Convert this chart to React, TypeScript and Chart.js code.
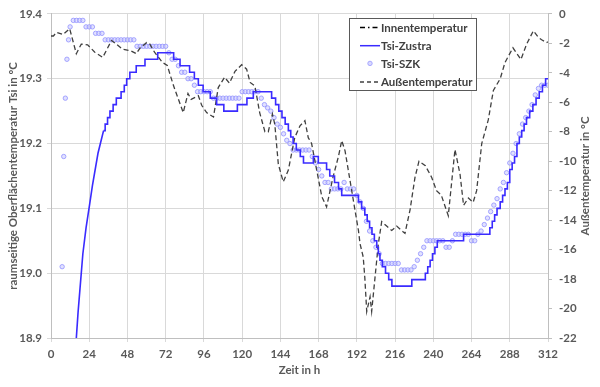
import React, { useEffect, useRef } from "react";
import { Chart, registerables } from "chart.js";

Chart.register(...registerables);

// ---------- data ----------
const xTickStep = 24;
const xMin = 0;
const xMax = 312;
const leftMin = 18.9;
const leftMax = 19.4;
const rightMin = -22;
const rightMax = 0;

const seriesNames = ["Innentemperatur", "Tsi-Zustra", "Tsi-SZK", "Außentemperatur"];
const xTitle = "Zeit in h";
const leftTitle = "raumseitige Oberflächentemperatur Tsi in °C";
const rightTitle = "Außentemperatur in °C";

// Innentemperatur: not visible inside the plotted range
const innenHours: number[] = [];
const innenValues: number[] = [];

// Tsi-Zustra, initial rise (continuous)
const zustraRiseHours = [14, 15.9, 17, 18, 20, 22, 24.3, 26, 29.5, 31, 33];
const zustraRiseValues = [18.83, 18.9, 18.94, 18.97, 19.03, 19.07, 19.107, 19.135, 19.185, 19.2, 19.22];

// Tsi-Zustra, staircase part (step starts)
const zustraHours = [
  33, 34, 35.5, 37, 39, 41, 44, 46,
  47.5, 49.5, 53.5, 59, 67, 77, 81, 87, 90, 92.5, 95.5, 100, 104, 108.5, 117, 123, 127, 138.5, 141, 143, 145,
  147, 149, 150.5, 152, 154, 156.5, 158.5, 164.7, 167.8, 173, 175, 178, 180.5, 182.5, 193, 195, 197, 198.5, 200,
  201.5, 203, 204.5, 205.5, 206.5, 208, 210, 212, 214, 226.5, 235, 236.5, 238, 239.5, 241, 242.5, 259, 275.5,
  277, 278.5, 280, 282, 283.5, 285, 286.5, 288, 289.5, 291, 292.5, 294, 295.5, 297, 298.5, 300.5, 302.5, 304.5,
  306.5, 308.5, 310.5, 312,
];
const zustraValues = [
  19.22, 19.23, 19.24, 19.25, 19.26, 19.27, 19.28, 19.29, 19.3, 19.31, 19.32, 19.33,
  19.34, 19.33, 19.32, 19.31, 19.3, 19.29, 19.28, 19.27, 19.26, 19.25, 19.26, 19.27, 19.28, 19.27, 19.26, 19.25,
  19.24, 19.23, 19.22, 19.21, 19.2, 19.19, 19.18, 19.17, 19.18, 19.17, 19.16, 19.15, 19.14, 19.13, 19.12, 19.11,
  19.1, 19.09, 19.08, 19.07, 19.06, 19.05, 19.04, 19.03, 19.02, 19.01, 19.0, 18.99, 18.98, 18.99, 19.0, 19.01,
  19.02, 19.03, 19.04, 19.05, 19.06, 19.07, 19.08, 19.09, 19.1, 19.11, 19.12, 19.13, 19.14, 19.16, 19.17, 19.18,
  19.2, 19.21, 19.22, 19.23, 19.24, 19.25, 19.26, 19.27, 19.28, 19.29, 19.3, 19.3,
];

// Tsi-SZK (markers)
const szkHours = [
  7, 8, 9, 10, 11, 12, 14, 16, 18, 20, 22, 24, 26, 28, 30, 32, 34, 36, 38, 40, 42, 44, 46, 48, 50, 52, 54, 56,
  58, 60, 62, 64, 66, 68, 70, 72, 74, 76, 78, 80, 82, 84, 86, 88, 90, 92, 94, 96, 98, 100, 102, 104, 106, 108,
  110, 112, 114, 116, 118, 120, 122, 124, 126, 128, 130, 132, 134, 136, 138, 140, 142, 144, 146, 148, 150, 152,
  154, 156, 158, 160, 162, 164, 166, 168, 170, 172, 174, 176, 178, 180, 182, 184, 186, 188, 190, 192, 194, 196,
  198, 200, 202, 204, 206, 208, 210, 212, 214, 216, 218, 220, 222, 224, 226, 228, 230, 232, 234, 236, 238, 240,
  242, 244, 246, 248, 250, 252, 254, 256, 258, 260, 262, 264, 266, 268, 270, 272, 274, 276, 278, 280, 282, 284,
  286, 288, 290, 292, 294, 296, 298, 300, 302, 304, 306, 308, 310, 312,
];
const szkValues = [
  19.01, 19.18, 19.27, 19.33, 19.36, 19.38, 19.39, 19.39, 19.39, 19.39, 19.38, 19.38, 19.38, 19.37, 19.37, 19.37,
  19.36, 19.36, 19.36, 19.36, 19.36, 19.36, 19.36, 19.36, 19.36, 19.36, 19.35, 19.35, 19.35, 19.35, 19.35, 19.35,
  19.35, 19.35, 19.35, 19.35, 19.34, 19.33, 19.33, 19.32, 19.31, 19.31, 19.3, 19.3, 19.29, 19.28, 19.28, 19.28,
  19.28, 19.28, 19.27, 19.27, 19.27, 19.27, 19.27, 19.27, 19.27, 19.27, 19.27, 19.28, 19.28, 19.28, 19.28, 19.28,
  19.28, 19.27, 19.26, 19.255, 19.25, 19.24, 19.23, 19.225, 19.215, 19.205, 19.2, 19.19, 19.19, 19.19, 19.19,
  19.19, 19.19, 19.18, 19.17, 19.16, 19.15, 19.14, 19.14, 19.13, 19.13, 19.13, 19.13, 19.14, 19.13, 19.13, 19.13,
  19.12, 19.11, 19.1, 19.08, 19.065, 19.05, 19.04, 19.03, 19.015, 19.015, 19.015, 19.015, 19.015, 19.015, 19.005,
  19.005, 19.005, 19.005, 19.01, 19.02, 19.03, 19.04, 19.05, 19.05, 19.05, 19.05, 19.05, 19.05, 19.04, 19.04,
  19.05, 19.06, 19.06, 19.06, 19.06, 19.06, 19.05, 19.05, 19.06, 19.065, 19.075, 19.085, 19.095, 19.105, 19.115,
  19.13, 19.14, 19.155, 19.17, 19.185, 19.2, 19.215, 19.23, 19.24, 19.25, 19.26, 19.275, 19.285, 19.29, 19.29,
  19.29,
];

// Außentemperatur (right axis)
const aussenHours = [
  0, 1.5, 3.5, 7.5, 11.7, 15.9, 19, 23, 27.5, 32.5, 38, 41, 45, 50, 53.5, 56, 60, 62, 65, 70, 73, 77, 80, 83, 86,
  88, 92.5, 94.6, 97.7, 102, 105, 109, 112, 115.5, 119.7, 122.8, 125, 128, 131, 134.3, 136.4, 139, 140.5, 142.7,
  145.8, 149, 153, 156.3, 159.4, 161.5, 163.6, 166.8, 170, 173, 177, 180.4, 182.5, 184.6, 187.7, 190.8, 193, 194,
  196, 197, 198.2, 200.3, 201.3, 203.4, 205.5, 207.6, 210.7, 213.9, 217, 220, 222.2, 225.4, 228.5, 231, 235, 239,
  242, 245, 249.4, 253.6, 256.8, 259, 262, 265, 267.2, 270.4, 274.5, 277.7, 282, 285, 290, 295, 298.6, 302.8, 306,
  308, 311, 312,
];
const aussenValues = [
  -1.5, -1.5, -1.25, -1.4, -1.0, -2.7, -2.05, -2.1, -2.6, -2.95, -1.8, -2.05, -2.4, -2.5, -2.7, -2.3, -1.95, -2.05,
  -2.6, -3.3, -3.5, -4.9, -5.8, -6.7, -5.4, -5.8, -5.55, -6.2, -6.7, -7.0, -5.0, -4.3, -4.7, -3.9, -3.45, -3.75,
  -4.65, -4.9, -6.7, -8.0, -8.0, -6.8, -7.5, -10.2, -11.4, -10.6, -8.4, -7.6, -7.25, -8.4, -8.8, -10.6, -12.4, -13.1,
  -11.1, -9.7, -8.6, -9.3, -11.3, -13.3, -14.7, -15.6, -16.5, -17.9, -20.2, -19.2, -20.2, -17.9, -15.6, -14.1,
  -14.4, -14.7, -14.4, -14.7, -14.9, -13.3, -11.1, -10.0, -10.3, -11.1, -12.0, -12.3, -13.7, -9.2, -10.9, -13.0,
  -12.5, -12.8, -12.0, -8.8, -7.2, -5.2, -4.4, -3.3, -2.3, -3.1, -2.05, -1.15, -1.6, -1.75, -1.95, -1.9,
];

// ---------- helpers ----------
const toPoints = (xs: number[], ys: number[]) => xs.map((x, i) => ({ x, y: ys[i] }));

const FONT = "Lato, 'Open Sans', sans-serif";
const TEXT = "#595959";
const GRID = "#d9d9d9";
const AXIS = "#bfbfbf";
const BLUE = "#3a2bff";
const DARK = "#404040";
const AXIS_FONT = { family: FONT, size: 11.5, weight: "bold" as const };

const boxLegend = {
  id: "boxLegend",
  afterDraw(chart: any) {
    const ctx = chart.ctx as CanvasRenderingContext2D;
    ctx.save();
    // right axis title, reading bottom-to-top like the left one
    const area = chart.chartArea;
    ctx.font = `bold 11.5px ${FONT}`;
    ctx.fillStyle = TEXT;
    ctx.textAlign = "center";
    ctx.textBaseline = "middle";
    ctx.save();
    ctx.translate(chart.width - 15, (area.top + area.bottom) / 2);
    ctx.rotate(-Math.PI / 2);
    ctx.fillText(rightTitle, 0, 0);
    ctx.restore();

    // legend box
    const x0 = 349;
    const y0 = 18;
    const w = 127;
    const h = 72;
    ctx.fillStyle = "#ffffff";
    ctx.fillRect(x0, y0, w, h);
    ctx.strokeStyle = "#595959";
    ctx.lineWidth = 1;
    ctx.strokeRect(x0 + 0.5, y0 + 0.5, w, h);
    ctx.font = `bold 11.5px ${FONT}`;
    ctx.textBaseline = "middle";
    ctx.textAlign = "left";
    seriesNames.forEach((name, i) => {
      const y = y0 + 9 + i * 18.2;
      const lx0 = 360;
      const lx1 = 380;
      ctx.save();
      if (i === 2) {
        ctx.beginPath();
        ctx.arc((lx0 + lx1) / 2, y, 2.2, 0, Math.PI * 2);
        ctx.fillStyle = "rgba(200,200,255,0.7)";
        ctx.fill();
        ctx.strokeStyle = "#a8a8ff";
        ctx.lineWidth = 1;
        ctx.stroke();
      } else {
        ctx.beginPath();
        ctx.moveTo(lx0, y + 0.5);
        ctx.lineTo(lx1, y + 0.5);
        if (i === 0) {
          ctx.setLineDash([5, 3, 1.5, 3]);
          ctx.strokeStyle = "#000000";
        } else if (i === 1) {
          ctx.setLineDash([]);
          ctx.strokeStyle = BLUE;
        } else {
          ctx.setLineDash([4, 3]);
          ctx.strokeStyle = DARK;
        }
        ctx.lineWidth = 1.5;
        ctx.stroke();
      }
      ctx.restore();
      ctx.fillStyle = DARK;
      ctx.fillText(name, 381, y + 1);
    });
    ctx.restore();
  },
};

export default function App() {
  const canvasRef = useRef<HTMLCanvasElement | null>(null);

  useEffect(() => {
    document.body.style.margin = "0";
    const canvas = canvasRef.current;
    if (!canvas) return;
    const zustraStyle = {
      yAxisID: "y",
      borderColor: BLUE,
      borderWidth: 1.6,
      pointRadius: 0,
      fill: false,
      order: 1,
    };
    const chart = new Chart(canvas, {
      type: "line",
      data: {
        datasets: [
          {
            label: seriesNames[0],
            data: toPoints(innenHours, innenValues),
            yAxisID: "y",
            borderColor: "#000000",
            borderWidth: 1.25,
            borderDash: [5, 3, 1.5, 3],
            pointRadius: 0,
            fill: false,
          },
          {
            label: seriesNames[2],
            data: toPoints(szkHours, szkValues),
            yAxisID: "y",
            showLine: false,
            pointRadius: 2.2,
            pointBorderWidth: 1,
            pointBackgroundColor: "rgba(200,200,255,0.55)",
            pointBorderColor: "rgba(150,150,255,0.85)",
            order: 3,
          },
          {
            label: seriesNames[3],
            data: toPoints(aussenHours, aussenValues),
            yAxisID: "y2",
            borderColor: DARK,
            borderWidth: 1.3,
            borderDash: [5, 3],
            pointRadius: 0,
            fill: false,
            order: 2,
          },
          {
            label: seriesNames[1],
            data: toPoints(zustraRiseHours, zustraRiseValues),
            ...zustraStyle,
          },
          {
            label: seriesNames[1],
            data: toPoints(zustraHours, zustraValues),
            stepped: true,
            ...zustraStyle,
          },
        ],
      },
      options: {
        animation: false,
        responsive: false,
        devicePixelRatio: 1,
        layout: { padding: { top: 13, left: 0, right: 0, bottom: 0 } },
        plugins: {
          legend: { display: false },
          tooltip: { enabled: false },
        },
        scales: {
          x: {
            type: "linear",
            min: xMin,
            max: xMax,
            afterFit: (s: any) => {
              s.height = 49;
            },
            ticks: {
              stepSize: xTickStep,
              color: TEXT,
              font: AXIS_FONT,
              padding: 5,
              maxRotation: 0,
            },
            grid: { color: GRID, lineWidth: 1, tickLength: 4 },
            border: { color: AXIS },
            title: {
              display: true,
              text: xTitle,
              color: TEXT,
              font: AXIS_FONT,
              padding: { top: 0, bottom: 10 },
            },
          },
          y: {
            type: "linear",
            position: "left",
            min: leftMin,
            max: leftMax,
            afterFit: (s: any) => {
              s.width = 51;
            },
            ticks: {
              stepSize: 0.1,
              color: TEXT,
              font: AXIS_FONT,
              padding: 5,
              callback: (v: any) => Number(v).toFixed(1),
            },
            grid: { color: GRID, lineWidth: 1, tickLength: 4 },
            border: { color: AXIS },
            title: {
              display: true,
              text: leftTitle,
              color: TEXT,
              font: AXIS_FONT,
              padding: { top: 6, bottom: 0 },
            },
          },
          y2: {
            type: "linear",
            position: "right",
            min: rightMin,
            max: rightMax,
            afterFit: (s: any) => {
              s.width = 52;
            },
            ticks: {
              stepSize: 2,
              color: TEXT,
              font: AXIS_FONT,
              padding: 7,
            },
            grid: { drawOnChartArea: false, color: AXIS, tickLength: 4 },
            border: { color: AXIS },
          },
        },
      },
      plugins: [boxLegend],
    });
    return () => chart.destroy();
  }, []);

  return (
    <div style={{ width: 600, height: 387, background: "#fff" }}>
      <canvas ref={canvasRef} width={600} height={387} style={{ display: "block" }} />
    </div>
  );
}
